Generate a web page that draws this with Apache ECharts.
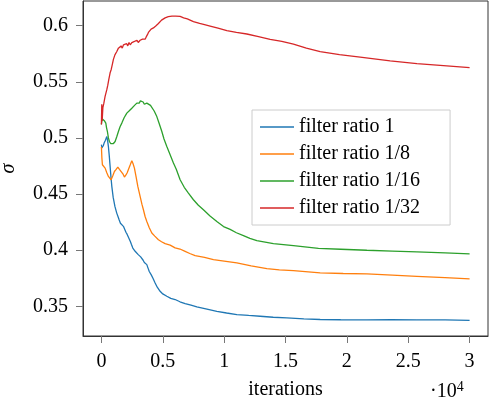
<!DOCTYPE html>
<html>
<head>
<meta charset="utf-8">
<script src="https://cdn.jsdelivr.net/npm/echarts@6/dist/echarts.min.js"></script>
<style>
html, body { margin: 0; padding: 0; background: #fff; }
#myChart { width: 489px; height: 402px; }
</style>
</head>
<body>
<div id="myChart"></div>
<script>
//数据
var seriesNames = ['filter ratio 1', 'filter ratio 1/8', 'filter ratio 1/16', 'filter ratio 1/32'];
var seriesColors = ['#1f77b4', '#ff7f0e', '#2ca02c', '#d62728'];
var xTicks = [0, 5000, 10000, 15000, 20000, 25000, 30000];
var yTicks = [0.35, 0.4, 0.45, 0.5, 0.55, 0.6];

// filter ratio 1
var iterBlue = [0, 40, 81, 150, 220, 330, 440, 500, 570, 640, 709, 780, 848, 960, 1100, 1250, 1350, 1443, 1550, 1650, 1700, 1793, 1900, 2000, 2100, 2201, 2350, 2450, 2559, 2650, 2750, 2885, 3000, 3100, 3200, 3293, 3400, 3500, 3600, 3700, 3800, 3900, 4051, 4200, 4377, 4550, 4784, 5000, 5330, 5650, 6007, 6400, 6822, 7300, 7775, 8600, 9405, 10200, 11035, 12000, 12934, 14000, 15110, 16500, 17824, 19500, 21630, 23600, 25705, 28000, 30000];
var sigmaBlue = [0.494, 0.491, 0.4895, 0.493, 0.4954, 0.498, 0.5012, 0.498, 0.4923, 0.484, 0.4746, 0.465, 0.4568, 0.447, 0.439, 0.433, 0.430, 0.4271, 0.424, 0.4225, 0.424, 0.4212, 0.420, 0.416, 0.414, 0.4123, 0.408, 0.405, 0.4019, 0.401, 0.399, 0.398, 0.396, 0.3955, 0.394, 0.3931, 0.391, 0.389, 0.388, 0.3871, 0.384, 0.381, 0.3782, 0.375, 0.3708, 0.367, 0.3633, 0.361, 0.3589, 0.357, 0.356, 0.354, 0.3524, 0.351, 0.3495, 0.3475, 0.3455, 0.344, 0.3426, 0.3418, 0.3411, 0.3402, 0.3397, 0.3388, 0.3382, 0.338, 0.3379, 0.3381, 0.3379, 0.3379, 0.3375];

// filter ratio 1/8
var iterOrange = [0, 40, 81, 180, 302, 440, 570, 680, 791, 920, 1060, 1200, 1337, 1470, 1606, 1750, 1875, 2000, 2100, 2201, 2350, 2478, 2580, 2690, 2830, 2967, 3154, 3300, 3423, 3560, 3700, 3900, 4108, 4350, 4646, 4900, 5192, 5600, 6007, 6400, 6822, 7200, 7637, 8400, 9128, 10000, 11035, 12200, 13480, 14500, 15648, 17824, 19700, 21630, 23700, 25705, 28000, 30000];
var sigmaOrange = [0.492, 0.482, 0.4761, 0.476, 0.4731, 0.469, 0.4657, 0.464, 0.4627, 0.466, 0.4701, 0.472, 0.474, 0.472, 0.4716, 0.468, 0.4651, 0.467, 0.469, 0.4701, 0.476, 0.4796, 0.477, 0.4731, 0.465, 0.4568, 0.4479, 0.441, 0.436, 0.430, 0.4256, 0.420, 0.4153, 0.4125, 0.4093, 0.4075, 0.4058, 0.4045, 0.402, 0.401, 0.3989, 0.397, 0.3951, 0.3935, 0.3915, 0.3903, 0.3886, 0.386, 0.3835, 0.3825, 0.3818, 0.3797, 0.3792, 0.3788, 0.3778, 0.3767, 0.3755, 0.3744];

// filter ratio 1/16
var iterGreen = [0, 60, 163, 260, 359, 420, 489, 570, 652, 750, 848, 980, 1117, 1250, 1386, 1520, 1663, 1850, 2070, 2250, 2350, 2478, 2600, 2700, 2800, 2885, 2980, 3080, 3180, 3293, 3400, 3500, 3600, 3700, 3850, 4000, 4108, 4300, 4515, 4700, 4923, 5100, 5330, 5600, 5868, 6100, 6414, 6750, 7090, 7498, 7900, 8313, 8850, 9405, 9950, 10489, 11000, 11573, 12100, 12665, 14018, 15648, 17686, 19500, 21630, 23700, 25705, 28000, 30000];
var sigmaGreen = [0.512, 0.517, 0.516, 0.515, 0.5132, 0.509, 0.5057, 0.500, 0.4968, 0.495, 0.4939, 0.495, 0.4968, 0.501, 0.5057, 0.510, 0.5132, 0.518, 0.5221, 0.524, 0.523, 0.5265, 0.527, 0.529, 0.528, 0.531, 0.5325, 0.531, 0.533, 0.5318, 0.532, 0.530, 0.5315, 0.531, 0.530, 0.529, 0.5279, 0.524, 0.519, 0.513, 0.5057, 0.499, 0.4923, 0.485, 0.4776, 0.472, 0.4627, 0.456, 0.4509, 0.4449, 0.440, 0.436, 0.4305, 0.4256, 0.421, 0.4185, 0.4155, 0.4129, 0.4105, 0.4085, 0.4058, 0.404, 0.4016, 0.4008, 0.3999, 0.3992, 0.3984, 0.3975, 0.3966];

// filter ratio 1/32
var iterRed = [0, 30, 60, 120, 200, 300, 440, 520, 600, 709, 800, 900, 978, 1100, 1255, 1386, 1500, 1600, 1700, 1800, 1932, 2050, 2150, 2250, 2350, 2478, 2600, 2700, 2800, 2900, 3000, 3154, 3250, 3350, 3450, 3562, 3650, 3750, 3831, 3950, 4050, 4150, 4238, 4350, 4450, 4550, 4646, 4750, 4900, 5050, 5192, 5300, 5450, 5599, 5750, 5900, 6050, 6200, 6414, 6700, 7000, 7498, 8000, 8400, 8859, 9500, 10220, 11000, 11850, 12800, 13749, 14700, 15648, 16700, 17824, 19400, 21084, 23529, 25705, 27873, 30000];
var sigmaRed = [0.512, 0.530, 0.515, 0.527, 0.531, 0.537, 0.543, 0.547, 0.552, 0.558, 0.561, 0.566, 0.570, 0.574, 0.577, 0.580, 0.579, 0.582, 0.580, 0.583, 0.582, 0.584, 0.582, 0.585, 0.583, 0.585, 0.584, 0.586, 0.585, 0.587, 0.585, 0.587, 0.586, 0.588, 0.587, 0.588, 0.590, 0.592, 0.594, 0.595, 0.597, 0.596, 0.598, 0.599, 0.600, 0.601, 0.602, 0.603, 0.605, 0.605, 0.607, 0.607, 0.608, 0.609, 0.6085, 0.609, 0.6085, 0.6088, 0.6083, 0.607, 0.606, 0.6036, 0.602, 0.601, 0.5997, 0.5978, 0.5956, 0.594, 0.5926, 0.5903, 0.5879, 0.586, 0.5835, 0.580, 0.5769, 0.5742, 0.5719, 0.5686, 0.5662, 0.5644, 0.5626];

function pairs(xs, ys) {
    var out = [];
    for (var i = 0; i < xs.length; i++) { out.push([xs[i], ys[i]]); }
    return out;
}

var allData = [
    pairs(iterBlue, sigmaBlue),
    pairs(iterOrange, sigmaOrange),
    pairs(iterGreen, sigmaGreen),
    pairs(iterRed, sigmaRed)
];

var fontFamily = '"Liberation Serif", "DejaVu Serif", serif';

var myChart = echarts.init(document.getElementById('myChart'), null, { renderer: 'canvas' });

var series = [];
for (var i = 0; i < seriesNames.length; i++) {
    series.push({
        name: seriesNames[i],
        type: 'line',
        data: allData[i],
        symbol: 'none',
        showSymbol: false,
        animation: false,
        color: seriesColors[i],
        lineStyle: { width: 1.3, color: seriesColors[i] }
    });
}

var option = {
    backgroundColor: '#fff',
    animation: false,
    grid: {
        left: 83, right: 1, top: 1, bottom: 66,
        outerBoundsMode: 'none',
        containLabel: false,
        show: true,
        borderColor: '#333',
        borderWidth: 1,
        backgroundColor: 'transparent'
    },
    legend: {
        orient: 'vertical',
        left: 252,
        top: 110,
        padding: [7, 30, 7, 8],
        icon: 'rect',
        itemWidth: 34,
        itemHeight: 1.5,
        itemGap: 7,
        backgroundColor: '#fff',
        borderColor: '#ccc',
        borderWidth: 1,
        borderRadius: 0,
        textStyle: { fontFamily: fontFamily, fontSize: 20, color: '#000', lineHeight: 20 },
        data: seriesNames
    },
    xAxis: {
        type: 'value',
        min: -1500,
        max: 31500,
        name: 'iterations',
        nameLocation: 'middle',
        nameGap: 44,
        nameTextStyle: { fontFamily: fontFamily, fontSize: 20, color: '#000' },
        axisLine: { show: true, onZero: false, lineStyle: { color: '#333' } },
        axisTick: { show: true, length: 7, customValues: xTicks, lineStyle: { color: '#777' } },
        axisLabel: {
            customValues: xTicks,
            margin: 16,
            fontFamily: fontFamily,
            fontSize: 20,
            color: '#000',
            formatter: function (v) { return String(+(v / 10000).toFixed(2)); }
        },
        splitLine: { show: false }
    },
    yAxis: {
        type: 'value',
        min: 0.3235,
        max: 0.622,
        name: 'σ',
        nameLocation: 'middle',
        nameRotate: 90,
        nameGap: 64,
        nameTextStyle: { fontFamily: fontFamily, fontSize: 20, fontStyle: 'italic', color: '#000' },
        axisLine: { show: true, onZero: false, lineStyle: { color: '#333' } },
        axisTick: { show: true, length: 7, customValues: yTicks, lineStyle: { color: '#777' } },
        axisLabel: {
            customValues: yTicks,
            margin: 15,
            fontFamily: fontFamily,
            fontSize: 20,
            color: '#000',
            formatter: function (v) { return String(+v.toFixed(2)); }
        },
        splitLine: { show: false }
    },
    graphic: [{
        type: 'text',
        left: 430,
        top: 380,
        style: {
            text: '{a|·10}{b|4}',
            rich: {
                a: { fontFamily: fontFamily, fontSize: 20, fill: '#000', verticalAlign: 'bottom' },
                b: { fontFamily: fontFamily, fontSize: 14, fill: '#000', verticalAlign: 'top', padding: [0, 0, 8, 0] }
            }
        }
    }],
    series: series
};

myChart.setOption(option, true);
</script>
</body>
</html>
